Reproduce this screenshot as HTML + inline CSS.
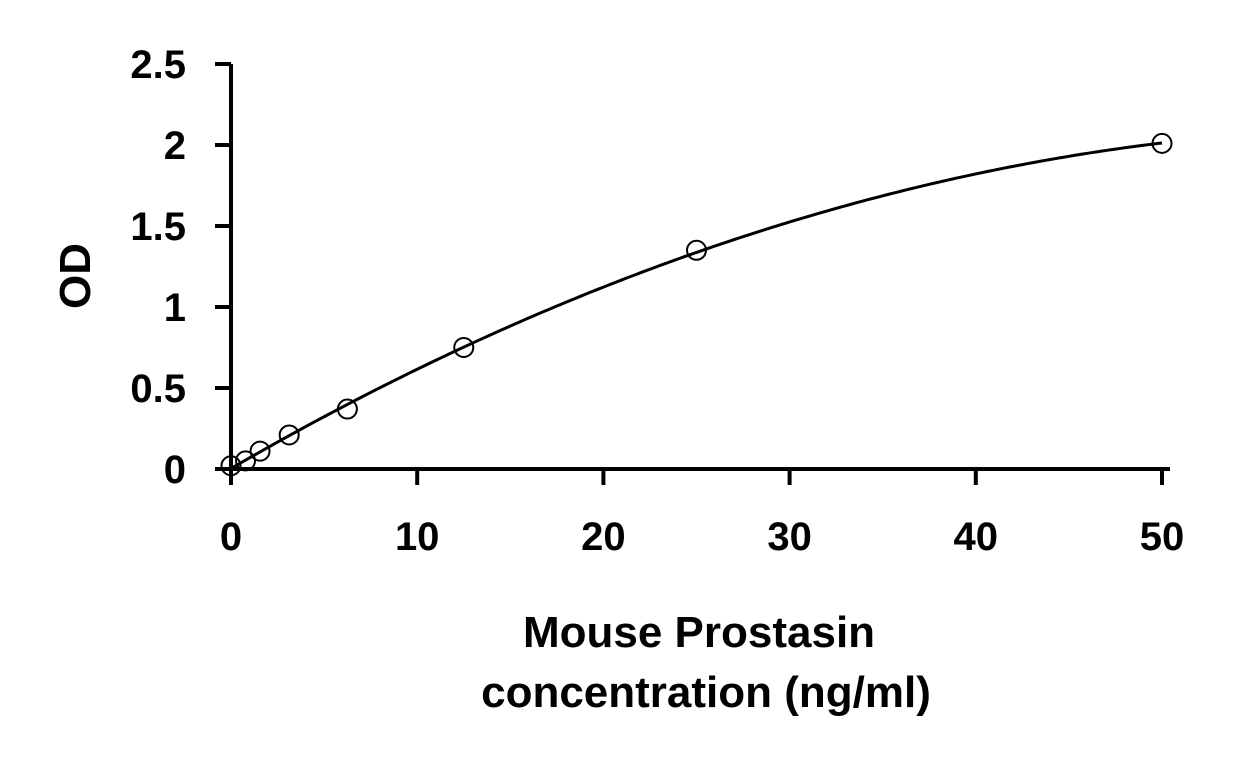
<!DOCTYPE html>
<html><head><meta charset="utf-8"><style>
body{margin:0;background:#fff}
svg text{font-family:"Liberation Sans",Arial,sans-serif;font-weight:bold;fill:#000}
</style></head><body>
<svg width="1245" height="752" viewBox="0 0 1245 752" xmlns="http://www.w3.org/2000/svg">
<g id="axes"></g>
<g id="plot"></g>
<text x="0" y="0" font-size="44" text-anchor="middle" transform="translate(90,276) rotate(-90)">OD</text>
<text x="699" y="647" font-size="44" text-anchor="middle">Mouse Prostasin</text>
<text x="706" y="707" font-size="44" text-anchor="middle">concentration (ng/ml)</text>
</svg>
<script>
const xTicks=[0,10,20,30,40,50];
const yTicks=[0,0.5,1,1.5,2,2.5];
const yTickLabels=["0","0.5","1","1.5","2","2.5"];
const conc=[0,0.78,1.56,3.125,6.25,12.5,25,50];
const od=[0.02,0.05,0.11,0.21,0.37,0.75,1.35,2.01];
const NS="http://www.w3.org/2000/svg";
const X=v=>231+v*(1162-231)/50;
const Y=v=>469-v*(469-64)/2.5;
function mk(t,a,p){const e=document.createElementNS(NS,t);for(const k in a)e.setAttribute(k,a[k]);p.appendChild(e);return e;}
const ax=document.getElementById('axes'),pl=document.getElementById('plot');
let e=mk('line',{x1:X(0)-2,y1:Y(0),x2:1170,y2:Y(0),stroke:'#000','stroke-width':4},ax);


e=mk('line',{x1:X(0),y1:Y(0)+16,x2:X(0),y2:Y(2.5),stroke:'#000','stroke-width':4},ax);


xTicks.forEach(v=>{
 let t=mk('line',{x1:X(v),y1:Y(0),x2:X(v),y2:Y(0)+16,stroke:'#000','stroke-width':4},ax);
 
 
 let l=mk('text',{x:X(v),y:550,'font-size':40,'text-anchor':'middle'},ax);l.textContent=v;
 
 
});
yTicks.forEach((v,i)=>{
 let t=mk('line',{x1:215,y1:Y(v),x2:X(0),y2:Y(v),stroke:'#000','stroke-width':4},ax);
 
 
 let l=mk('text',{x:186,y:Y(v)+14,'font-size':40,'text-anchor':'end'},ax);l.textContent=yTickLabels[i];
 
 
});
// least-squares quadratic fit y = a + b x + c x^2
function fit(){
 const n=conc.length;let S=[0,0,0,0,0],T=[0,0,0];
 for(let i=0;i<n;i++){const x=conc[i],y=od[i];for(let k=0;k<5;k++)S[k]+=Math.pow(x,k);for(let k=0;k<3;k++)T[k]+=y*Math.pow(x,k);}
 const M=[[S[0],S[1],S[2],T[0]],[S[1],S[2],S[3],T[1]],[S[2],S[3],S[4],T[2]]];
 for(let i=0;i<3;i++){for(let j=i+1;j<3;j++){const f=M[j][i]/M[i][i];for(let k=i;k<4;k++)M[j][k]-=f*M[i][k];}}
 const r=[0,0,0];for(let i=2;i>=0;i--){let s=M[i][3];for(let k=i+1;k<3;k++)s-=M[i][k]*r[k];r[i]=s/M[i][i];}
 return r;
}
const co=fit();
let d='';
const xmax=conc[conc.length-1];
for(let s=0;s<=200;s++){const x=xmax*s/200;const y=co[0]+co[1]*x+co[2]*x*x;d+=(s?'L':'M')+X(x).toFixed(2)+','+Y(y).toFixed(2);}
e=mk('path',{d:d,fill:'none',stroke:'#000','stroke-width':3},pl);


conc.forEach((c,i)=>{
 let p=mk('circle',{cx:X(c),cy:Y(od[i]),r:9.5,fill:'none',stroke:'#000','stroke-width':2},pl);
 
 
});
</script>
</body></html>
